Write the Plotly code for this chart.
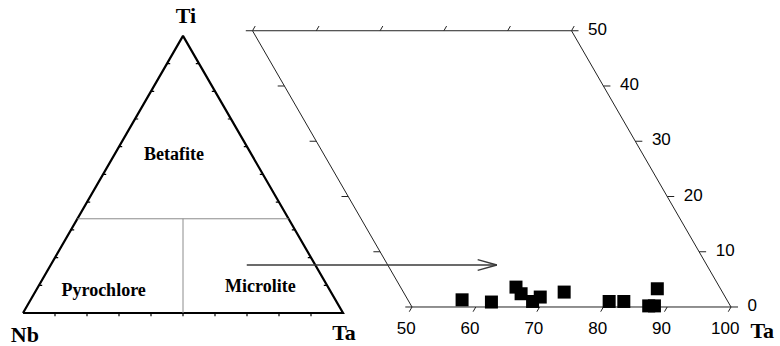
import math
import plotly.graph_objects as go

# ---------------- data (ternary %, Nb = 100 - Ta - Ti) ----------------
sample_ta = [57.2, 62.0, 64.5, 65.9, 68.4, 69.2, 72.5, 80.4, 82.7, 87.0, 87.9, 86.8]
sample_ti = [1.3, 0.9, 3.6, 2.4, 1.0, 1.8, 2.7, 1.0, 1.0, 0.2, 0.2, 3.3]

ta_ticks = [50, 60, 70, 80, 90, 100]        # bottom axis of the zoom panel
ti_ticks = [0, 10, 20, 30, 40, 50]          # right axis of the zoom panel
top_ta_ticks = [0, 10, 20, 30, 40, 50]      # ticks on the Ti = 50 edge
tri_ticks = [10, 20, 30, 40, 50, 60, 70, 80, 90]
field_names = ["Betafite", "Pyrochlore", "Microlite"]
corner_names = ["Ti", "Nb", "Ta"]
boundary_ti = 34        # Betafite / (Pyrochlore + Microlite) boundary
boundary_ta_nb = 50     # Pyrochlore / Microlite boundary (Ta = Nb)

R3 = math.sqrt(3) / 2


def txy(ta, ti):
    """ternary (Ta, Ti) -> cartesian (x, y), side length 100"""
    return ta + ti / 2.0, ti * R3


W, H = 780, 346
# left triangle placement
S1, OX1, OY1 = 3.2, 23.0, 313.0
XR1, YR1 = [-6, 106], [-10, 97]
# right (zoomed) panel placement
S2, OX2, OY2, X0_2 = 6.38, 412.0, 307.0, 50.0
XR2, YR2 = [22, 105], [-5, 47]


def xdom(rng, s, ox, x0=0.0):
    return [(ox + s * (rng[0] - x0)) / W, (ox + s * (rng[1] - x0)) / W]


def ydom(rng, s, oy):
    return [(H - (oy - s * rng[0])) / H, (H - (oy - s * rng[1])) / H]


fig = go.Figure()


def seg(p, q, color="black", width=1.0, ax="x", ay="y"):
    fig.add_trace(go.Scatter(x=[p[0], q[0]], y=[p[1], q[1]], mode="lines",
                             line=dict(color=color, width=width),
                             xaxis=ax, yaxis=ay, hoverinfo="skip",
                             showlegend=False))


# ---------------- left ternary triangle ----------------
nb_c, ta_c, ti_c = txy(0, 0), txy(100, 0), txy(0, 100)
fig.add_trace(go.Scatter(x=[nb_c[0], ta_c[0], ti_c[0], nb_c[0]],
                         y=[nb_c[1], ta_c[1], ti_c[1], nb_c[1]],
                         mode="lines", line=dict(color="black", width=2.2),
                         hoverinfo="skip", showlegend=False))
# field boundaries
seg(txy(0, boundary_ti), txy(100 - boundary_ti, boundary_ti), "#8c8c8c", 1.0)
seg(txy(boundary_ta_nb, 0), txy((100 - boundary_ti) / 2, boundary_ti), "#8c8c8c", 1.0)
# ticks
tl = 1.0
for v in tri_ticks:
    p = txy(v, 0)
    seg(p, (p[0], p[1] - tl), "black", 1.2)
    p = txy(0, v)            # left edge (Ta = 0)
    seg(p, (p[0] + tl, p[1]), "black", 1.2)
    p = txy(100 - v, v)      # right edge (Nb = 0)
    seg(p, (p[0] - tl, p[1]), "black", 1.2)

# labels
lbl_font = dict(family="Liberation Serif", size=22, color="black")
fld_font = dict(family="Liberation Serif", size=18, color="black")
corner_pos = [(50.9, 92.5), (0.6, -7.4), (100.3, -6.7)]
fig.add_trace(go.Scatter(x=[p[0] for p in corner_pos], y=[p[1] for p in corner_pos],
                         mode="text", text=["<b>%s</b>" % n for n in corner_names],
                         textfont=lbl_font, textposition="middle center",
                         cliponaxis=False, hoverinfo="skip", showlegend=False))
field_pos = [(47.2, 49.2), (25.2, 6.6), (74.2, 8.0)]
fig.add_trace(go.Scatter(x=[p[0] for p in field_pos], y=[p[1] for p in field_pos],
                         mode="text", text=["<b>%s</b>" % n for n in field_names],
                         textfont=fld_font, textposition="middle center",
                         cliponaxis=False, hoverinfo="skip", showlegend=False))

# ---------------- right zoomed panel (Nb <= 50, Ti <= 50) ----------------
A = dict(ax="x2", ay="y2")
frame_col = "#222222"
seg(txy(50, 0), txy(100, 0), frame_col, 1.0, **A)       # Ti = 0
seg(txy(0, 50), txy(50, 50), frame_col, 1.0, **A)       # Ti = 50
seg(txy(50, 0), txy(0, 50), frame_col, 1.0, **A)        # Nb = 50
seg(txy(100, 0), txy(50, 50), frame_col, 1.0, **A)      # Nb = 0

t = 0.85
for v in ta_ticks:                      # bottom ticks (Ta constant, outward)
    p = txy(v, 0)
    seg(p, (p[0] - t / 2, p[1] - t * R3), frame_col, 1.0, **A)
for v in top_ta_ticks:                  # top ticks
    p = txy(v, 50)
    seg(p, (p[0] + t / 2, p[1] + t * R3), frame_col, 1.0, **A)
for v in ti_ticks:
    p = txy(50 - v, v)                  # left edge, pointing left
    seg(p, (p[0] - 1.05, p[1]), frame_col, 1.0, **A)
    p = txy(100 - v, v)                 # right edge, pointing right
    seg(p, (p[0] + 1.1, p[1]), frame_col, 1.0, **A)

tick_font = dict(family="Liberation Sans", size=17, color="black")
bx = [txy(v, 0)[0] - 0.9 for v in ta_ticks]
fig.add_trace(go.Scatter(x=bx, y=[-3.6] * len(bx), mode="text",
                         text=[str(v) for v in ta_ticks], textfont=tick_font,
                         textposition="middle center", xaxis="x2", yaxis="y2",
                         cliponaxis=False, hoverinfo="skip", showlegend=False))
rx = [txy(100 - v, v)[0] + 2.6 for v in ti_ticks]
ry = [txy(100 - v, v)[1] for v in ti_ticks]
fig.add_trace(go.Scatter(x=rx, y=ry, mode="text",
                         text=[str(v) for v in ti_ticks], textfont=tick_font,
                         textposition="middle right", xaxis="x2", yaxis="y2",
                         cliponaxis=False, hoverinfo="skip", showlegend=False))
fig.add_trace(go.Scatter(x=[104.9], y=[-4.0], mode="text", text=["<b>Ta</b>"],
                         textfont=lbl_font, textposition="middle center",
                         xaxis="x2", yaxis="y2", cliponaxis=False,
                         hoverinfo="skip", showlegend=False))

# arrow from the triangle to the zoom panel
arrow_y, arrow_x0, arrow_x1 = 6.58, 24.1, 63.3
arrow_col = "#3a3a3a"
seg((arrow_x0, arrow_y), (arrow_x1, arrow_y), arrow_col, 1.4, **A)
seg((arrow_x1 - 3.0, arrow_y + 0.85), (arrow_x1, arrow_y), arrow_col, 1.4, **A)
seg((arrow_x1 - 3.0, arrow_y - 0.85), (arrow_x1, arrow_y), arrow_col, 1.4, **A)

# samples
sx = [txy(a, b)[0] for a, b in zip(sample_ta, sample_ti)]
sy = [txy(a, b)[1] for a, b in zip(sample_ta, sample_ti)]
fig.add_trace(go.Scatter(x=sx, y=sy, mode="markers",
                         marker=dict(symbol="square", size=13, color="black",
                                     line=dict(width=0)),
                         xaxis="x2", yaxis="y2", cliponaxis=False,
                         hoverinfo="skip", showlegend=False))

ax_common = dict(visible=False, showgrid=False, zeroline=False, fixedrange=True)
fig.update_layout(
    width=W, height=H, margin=dict(l=0, r=0, t=0, b=0),
    paper_bgcolor="white", plot_bgcolor="rgba(0,0,0,0)",
    showlegend=False, hovermode=False,
    xaxis=dict(range=XR1, domain=xdom(XR1, S1, OX1), **ax_common),
    yaxis=dict(range=YR1, domain=ydom(YR1, S1, OY1), **ax_common),
    xaxis2=dict(range=XR2, domain=xdom(XR2, S2, OX2, X0_2), anchor="y2", **ax_common),
    yaxis2=dict(range=YR2, domain=ydom(YR2, S2, OY2), anchor="x2", **ax_common),
)

fig.write_html("out.html", config={"displayModeBar": False, "staticPlot": True})
